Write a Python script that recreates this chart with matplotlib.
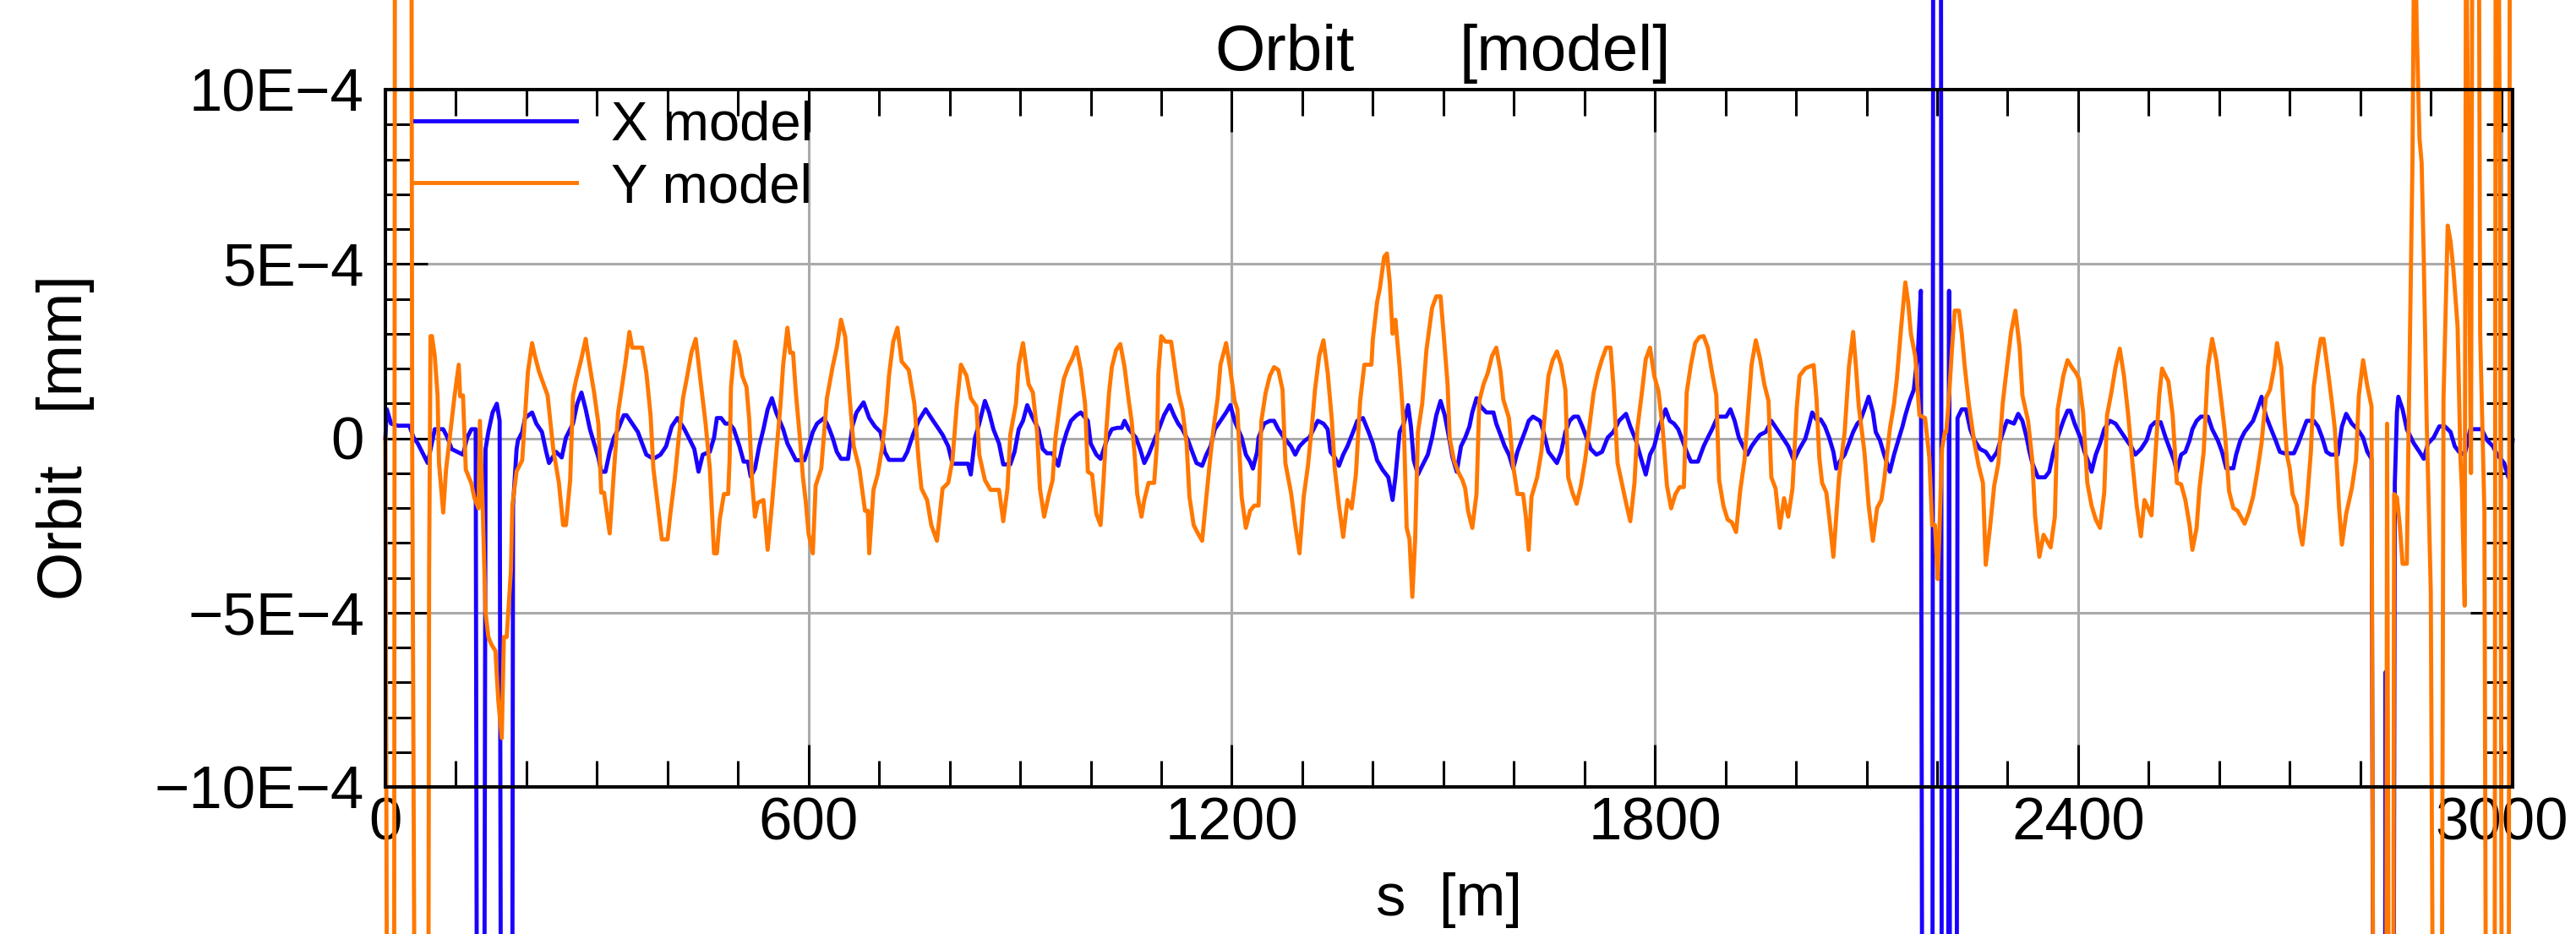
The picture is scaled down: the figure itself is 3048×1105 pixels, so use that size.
import matplotlib.pyplot as plt
from matplotlib import font_manager
from matplotlib.ticker import FixedLocator, MultipleLocator

# orbit readings: s in m, orbit in units of 1E-4 mm (+-30 = spike running off the frame)
x_s = [0, 2, 8, 18, 34, 40, 46, 54, 60, 70, 82, 88, 94, 110, 116, 122, 128, 131, 139, 142,
       146, 152, 158, 162, 165, 179, 181, 186, 188, 194, 198, 208, 214, 222, 228, 232, 242, 250,
       256, 266, 272, 278, 284, 290, 296, 302, 306, 312, 318, 324, 330, 338, 342, 350, 358, 364,
       370, 380, 390, 398, 406, 414, 424, 432, 438, 444, 450, 460, 466, 470, 476, 482, 488, 494,
       502, 508, 514, 518, 524, 530, 536, 542, 548, 554, 564, 570, 576, 582, 594, 600, 606, 612,
       622, 628, 634, 640, 646, 656, 662, 668, 678, 686, 694, 702, 708, 714, 734, 740, 748, 756,
       766, 774, 782, 790, 798, 804, 826, 830, 836, 842, 850, 856, 862, 870, 876, 886, 892, 898,
       904, 910, 916, 926, 932, 938, 946, 954, 960, 966, 972, 980, 986, 996, 1000, 1008, 1014,
       1024, 1030, 1038, 1044, 1048, 1054, 1064, 1070, 1076, 1082, 1098, 1104, 1112, 1118, 1124,
       1130, 1138, 1144, 1150, 1158, 1164, 1170, 1176, 1184, 1192, 1198, 1204, 1214, 1220, 1226,
       1230, 1236, 1238, 1246, 1254, 1260, 1266, 1274, 1284, 1290, 1296, 1304, 1310, 1322, 1330,
       1336, 1340, 1346, 1352, 1358, 1364, 1372, 1378, 1386, 1394, 1400, 1406, 1414, 1422, 1428,
       1432, 1438, 1444, 1450, 1454, 1458, 1464, 1470, 1478, 1484, 1490, 1496, 1502, 1508, 1513,
       1519, 1525, 1531, 1537, 1541, 1547, 1553, 1561, 1571, 1575, 1581, 1587, 1593, 1599, 1605,
       1611, 1617, 1621, 1627, 1637, 1641, 1649, 1655, 1661, 1667, 1673, 1679, 1685, 1691, 1697,
       1703, 1709, 1717, 1725, 1733, 1741, 1749, 1759, 1765, 1773, 1781, 1787, 1793, 1799, 1805,
       1815, 1821, 1827, 1833, 1839, 1845, 1851, 1861, 1869, 1875, 1881, 1889, 1901, 1907, 1913,
       1919, 1925, 1931, 1937, 1943, 1949, 1957, 1965, 1973, 1981, 1989, 1997, 2005, 2013, 2017,
       2023, 2029, 2035, 2041, 2047, 2053, 2057, 2063, 2069, 2075, 2081, 2087, 2091, 2097, 2103,
       2109, 2113, 2119, 2125, 2133, 2139, 2145, 2151, 2155, 2161, 2167, 2173, 2177, 2180, 2193,
       2195, 2205, 2207, 2215, 2217, 2219, 2227, 2229, 2235, 2241, 2247, 2253, 2261, 2269, 2277,
       2285, 2291, 2299, 2309, 2315, 2321, 2327, 2331, 2335, 2343, 2353, 2359, 2365, 2371, 2379,
       2385, 2389, 2395, 2403, 2409, 2415, 2419, 2425, 2431, 2437, 2445, 2453, 2461, 2469, 2475,
       2481, 2489, 2497, 2503, 2509, 2517, 2524, 2530, 2536, 2540, 2546, 2552, 2558, 2562, 2568,
       2574, 2584, 2590, 2598, 2604, 2610, 2620, 2624, 2630, 2636, 2642, 2648, 2654, 2660, 2666,
       2672, 2680, 2686, 2692, 2706, 2712, 2718, 2724, 2734, 2740, 2746, 2752, 2758, 2768, 2774,
       2780, 2788, 2796, 2804, 2810, 2816, 2820, 2834, 2836, 2840, 2846, 2849, 2852, 2854, 2860,
       2866, 2876, 2884, 2890, 2896, 2904, 2912, 2920, 2928, 2934, 2940, 2948, 2956, 2972, 2980,
       2988, 2994, 3004, 3010, 3016]
x_orbit = [0.0, 0.83, 0.42, 0.36, 0.36, 0.02, -0.15, -0.47, -0.71, 0.26, 0.26, 0.02, -0.31,
           -0.47, 0.02, 0.26, 0.26, -30, -30, -0.31, 0.18, 0.74, 0.99, 0.5, -30, -30, -1.93,
           -0.31, -0.06, 0.18, 0.58, 0.74, 0.42, 0.18, -0.39, -0.71, -0.39, -0.55, 0.02, 0.42,
           0.99, 1.31, 0.83, 0.26, -0.15, -0.55, -0.96, -0.96, -0.39, 0.02, 0.26, 0.66, 0.66,
           0.42, 0.18, -0.15, -0.47, -0.59, -0.47, -0.23, 0.34, 0.58, 0.26, -0.06, -0.31, -0.96,
           -0.47, -0.39, 0.02, 0.58, 0.58, 0.42, 0.42, 0.26, -0.23, -0.67, -0.67, -1.1, -0.87,
           -0.23, 0.26, 0.83, 1.15, 0.74, 0.26, -0.15, -0.39, -0.63, -0.63, -0.23, 0.18, 0.42,
           0.58, 0.34, 0.02, -0.39, -0.59, -0.59, 0.34, 0.74, 1.03, 0.58, 0.34, 0.18, -0.39,
           -0.62, -0.62, -0.39, 0.1, 0.5, 0.83, 0.58, 0.34, 0.1, -0.23, -0.73, -0.73, -1.04,
           0.02, 0.42, 1.07, 0.74, 0.26, -0.15, -0.75, -0.75, -0.39, 0.26, 0.5, 0.95, 0.66,
           0.26, -0.31, -0.43, -0.43, -0.79, -0.23, 0.18, 0.5, 0.66, 0.74, 0.5, -0.15, -0.47,
           -0.59, 0.02, 0.26, 0.3, 0.3, 0.5, 0.26, 0.02, -0.31, -0.71, -0.47, 0.34, 0.66, 0.95,
           0.66, 0.42, 0.26, -0.06, -0.39, -0.71, -0.79, -0.47, -0.23, 0.26, 0.5, 0.74, 0.95,
           0.5, 0.02, -0.47, -0.67, -0.87, -0.39, 0.02, 0.42, 0.5, 0.5, 0.26, 0.02, -0.23,
           -0.47, -0.23, -0.06, 0.02, 0.5, 0.42, 0.26, -0.39, -0.55, -0.79, -0.47, -0.23, 0.18,
           0.5, 0.58, 0.18, -0.15, -0.63, -0.91, -1.12, -1.77, -1.12, 0.18, 0.42, 0.95, 0.34,
           -0.63, -1.04, -0.79, -0.47, 0.02, 0.66, 1.07, 0.66, 0.02, -0.55, -0.96, -0.23, 0.02,
           0.34, 0.74, 1.15, 0.91, 0.74, 0.74, 0.42, 0.1, -0.23, -0.47, -0.87, -0.39, -0.06,
           0.26, 0.5, 0.62, 0.5, 0.26, -0.39, -0.55, -0.71, -0.39, 0.18, 0.5, 0.62, 0.62, 0.34,
           0.02, -0.31, -0.47, -0.39, 0.02, 0.18, 0.5, 0.7, 0.34, -0.06, -0.63, -1.04, -0.47,
           -0.23, 0.26, 0.83, 0.5, 0.42, 0.26, -0.06, -0.39, -0.67, -0.67, -0.23, 0.02, 0.26,
           0.62, 0.62, 0.83, 0.5, 0.02, -0.23, -0.47, -0.23, -0.06, 0.1, 0.18, 0.5, 0.26, 0.02,
           -0.23, -0.63, -0.3, -0.02, 0.26, 0.74, 0.54, 0.54, 0.34, 0.02, -0.39, -0.87, -0.63,
           -0.47, -0.15, 0.18, 0.42, 0.5, 0.83, 1.19, 0.74, 0.18, -0.06, -0.47, -0.96, -0.47,
           -0.06, 0.34, 0.66, 1.07, 1.39, 2.53, 4.23, -30, -30, 30, 30, -30, -30, 4.23, -30,
           -30, 0.58, 0.83, 0.83, 0.26, -0.06, -0.31, -0.39, -0.63, -0.39, 0.02, 0.5, 0.42, 0.7,
           0.5, 0.02, -0.39, -0.71, -1.12, -1.12, -0.96, -0.39, 0.02, 0.5, 0.79, 0.79, 0.42,
           0.02, -0.39, -0.71, -0.96, -0.47, -0.15, 0.26, 0.5, 0.42, 0.18, -0.06, -0.23, -0.47,
           -0.31, -0.06, 0.34, 0.46, 0.46, 0.02, -0.31, -0.63, -0.96, -0.47, -0.39, -0.06, 0.26,
           0.5, 0.62, 0.62, 0.26, -0.06, -0.39, -0.86, -0.86, -0.47, -0.06, 0.18, 0.34, 0.5,
           0.83, 1.19, 0.66, 0.34, -0.06, -0.39, -0.43, -0.43, -0.15, 0.18, 0.5, 0.5, 0.34,
           0.02, -0.39, -0.47, -0.47, 0.34, 0.7, 0.42, 0.26, 0.02, -0.39, -0.59, -30, -30, -6.7,
           -30, -30, -1.28, 0.74, 1.19, 0.83, 0.26, -0.15, -0.39, -0.59, -0.15, 0.02, 0.34, 0.34,
           0.18, -0.23, -0.39, -0.47, 0.26, 0.26, -0.06, -0.23, -0.47, -0.71, -1.12, -0.06]

y_s = [0, 4, 12, 14, 36, 38, 44, 60, 62, 64, 66, 70, 74, 76, 82, 86, 98, 104, 106, 110, 114,
       122, 126, 132, 134, 138, 142, 146, 150, 156, 160, 165, 168, 172, 178, 180, 186, 194, 202,
       208, 212, 218, 230, 238, 246, 252, 256, 262, 266, 270, 278, 284, 288, 296, 302, 306, 310,
       318, 324, 330, 340, 346, 350, 364, 370, 376, 380, 386, 392, 400, 404, 410, 416, 422, 428,
       434, 440, 446, 454, 460, 466, 470, 474, 480, 486, 488, 490, 496, 502, 506, 512, 516, 520,
       524, 528, 536, 542, 548, 554, 560, 564, 570, 574, 578, 582, 588, 592, 596, 600, 606, 610,
       618, 626, 634, 640, 646, 652, 658, 664, 672, 680, 684, 686, 692, 698, 704, 710, 714, 720,
       726, 732, 742, 750, 756, 760, 768, 774, 782, 790, 798, 804, 810, 816, 824, 830, 838, 842,
       850, 858, 870, 876, 882, 886, 894, 898, 904, 912, 918, 924, 928, 934, 940, 946, 950, 958,
       962, 968, 974, 980, 986, 992, 996, 1002, 1008, 1014, 1018, 1022, 1026, 1030, 1036, 1042,
       1048, 1054, 1058, 1062, 1066, 1072, 1076, 1082, 1090, 1094, 1096, 1100, 1106, 1114, 1118,
       1124, 1130, 1136, 1140, 1146, 1152, 1158, 1164, 1170, 1174, 1180, 1184, 1192, 1198, 1204,
       1208, 1214, 1220, 1226, 1232, 1238, 1242, 1248, 1254, 1260, 1266, 1272, 1276, 1284, 1290,
       1296, 1302, 1308, 1314, 1318, 1324, 1330, 1336, 1342, 1346, 1352, 1358, 1364, 1370, 1376,
       1382, 1388, 1398, 1400, 1406, 1410, 1416, 1420, 1424, 1428, 1432, 1438, 1444, 1448, 1452,
       1456, 1460, 1464, 1470, 1476, 1484, 1490, 1496, 1500, 1506, 1509, 1515, 1521, 1527, 1531,
       1535, 1541, 1547, 1551, 1557, 1563, 1569, 1575, 1581, 1585, 1593, 1599, 1605, 1613, 1617,
       1621, 1625, 1633, 1639, 1645, 1649, 1655, 1661, 1667, 1673, 1677, 1683, 1689, 1695, 1701,
       1707, 1713, 1719, 1725, 1731, 1737, 1741, 1747, 1753, 1759, 1765, 1771, 1775, 1781, 1787,
       1793, 1799, 1805, 1811, 1817, 1823, 1829, 1835, 1841, 1845, 1851, 1857, 1863, 1869, 1875,
       1881, 1887, 1891, 1897, 1903, 1909, 1915, 1921, 1927, 1931, 1937, 1943, 1949, 1955, 1961,
       1965, 1971, 1977, 1983, 1989, 1995, 2001, 2005, 2013, 2017, 2025, 2029, 2033, 2037, 2043,
       2047, 2053, 2057, 2061, 2069, 2075, 2081, 2085, 2089, 2097, 2103, 2109, 2115, 2121, 2125,
       2133, 2139, 2143, 2149, 2155, 2159, 2163, 2169, 2175, 2183, 2189, 2193, 2197, 2201, 2203,
       2207, 2211, 2213, 2217, 2221, 2225, 2231, 2235, 2239, 2245, 2253, 2259, 2265, 2269, 2275,
       2281, 2287, 2293, 2299, 2305, 2311, 2317, 2321, 2329, 2335, 2339, 2345, 2351, 2361, 2367,
       2371, 2379, 2385, 2391, 2397, 2401, 2407, 2413, 2419, 2425, 2431, 2437, 2441, 2447, 2453,
       2459, 2465, 2471, 2477, 2483, 2489, 2494, 2504, 2509, 2515, 2519, 2522, 2528, 2534, 2540,
       2546, 2552, 2558, 2562, 2568, 2572, 2578, 2584, 2590, 2596, 2602, 2608, 2614, 2620, 2626,
       2636, 2642, 2648, 2654, 2660, 2666, 2672, 2678, 2682, 2688, 2692, 2696, 2700, 2704, 2710,
       2714, 2718, 2724, 2730, 2734, 2740, 2744, 2748, 2754, 2760, 2764, 2770, 2774, 2780, 2788,
       2794, 2798, 2804, 2810, 2816, 2820, 2836, 2838, 2842, 2846, 2848, 2852, 2856, 2860, 2866,
       2868, 2874, 2877, 2880, 2884, 2887, 2890, 2894, 2900, 2906, 2914, 2918, 2924, 2928, 2932,
       2938, 2942, 2944, 2948, 2950, 2953, 2957, 2959, 2968, 2970, 2976, 2980, 2990, 2992, 2996,
       2998, 3002, 3010, 3012, 3016]
y_orbit = [0.0, -30, -30, 30, 30, -0.23, -30, -30, -3.79, 2.93, 2.93, 2.36, 1.23, -0.71, -2.13,
           -0.9, 1.2, 2.11, 1.2, 1.23, -0.9, -1.3, -1.7, -2.01, 0.5, -2.0, -5.0, -5.7, -5.9,
           -6.1, -7.5, -8.6, -5.7, -5.7, -3.79, -1.93, -0.95, -0.63, 1.89, 2.73, 2.36, 1.9,
           1.23, -0.31, -1.28, -2.49, -2.49, -1.2, 1.23, 1.64, 2.29, 2.85, 2.29, 1.3, 0.42,
           -1.56, -1.56, -2.73, -0.96, 0.74, 2.11, 3.05, 2.6, 2.6, 1.88, 0.66, -0.87, -1.88,
           -2.9, -2.9, -2.17, -1.2, 0.02, 1.15, 1.79, 2.47, 2.85, 1.79, 0.42, -0.87, -3.3, -3.3,
           -2.33, -1.6, -1.6, -0.63, 1.47, 2.77, 2.36, 1.79, 1.47, 0.5, -1.28, -2.25, -1.85,
           -1.77, -3.2, -1.93, -0.47, 0.91, 2.11, 3.17, 2.45, 2.45, 1.3, -0.06, -1.12, -1.81,
           -2.73, -3.3, -1.36, -0.87, 1.15, 2.04, 2.6, 3.4, 2.91, 1.23, -0.23, -0.87, -2.08,
           -2.08, -3.3, -1.48, -1.04, -0.31, 0.74, 1.79, 2.77, 3.17, 2.2, 1.96, 0.99, -0.63,
           -1.44, -1.77, -2.49, -2.94, -1.44, -1.28, -0.63, 0.91, 2.11, 1.79, 1.15, 0.91, -0.47,
           -1.2, -1.48, -1.48, -2.38, -1.44, 0.1, 0.99, 2.11, 2.73, 1.55, 1.31, 0.18, -1.44,
           -2.25, -1.68, -1.2, 0.02, 1.23, 1.71, 2.04, 2.29, 2.61, 1.96, 0.99, -0.96, -1.04,
           -2.17, -2.49, -1.28, 0.18, 1.3, 2.04, 2.53, 2.7, 2.04, 1.07, 0.5, -0.39, -1.6, -2.25,
           -1.77, -1.28, -1.28, -0.15, 1.87, 2.93, 2.77, 2.77, 2.2, 1.31, 0.83, -0.15, -1.68,
           -2.49, -2.73, -2.94, -1.68, -0.47, 0.26, 1.15, 2.11, 2.73, 1.96, 1.07, 0.83, -1.68,
           -2.57, -2.08, -1.93, -1.93, 0.5, 1.3, 1.79, 2.04, 1.96, 1.39, -0.71, -1.56, -2.49,
           -3.3, -1.68, -0.79, 0.42, 1.39, 2.36, 2.81, 1.88, 0.5, -0.87, -1.93, -2.83, -1.77,
           -2.01, -1.04, 1.07, 2.11, 2.11, 2.83, 3.9, 4.3, 5.2, 5.3, 4.47, 3.0, 3.4, 2.04, 0.34,
           -2.57, -2.9, -4.55, -2.9, 0.18, 0.99, 2.53, 3.74, 4.07, 4.07, 3.09, 1.55, 0.0, -0.63,
           -0.96, -1.2, -1.44, -2.08, -2.57, -1.6, 1.07, 1.55, 1.87, 2.36, 2.6, 1.92, 1.11,
           0.58, -0.79, -1.6, -1.6, -2.25, -3.2, -1.68, -1.12, -0.39, 0.91, 1.79, 2.24, 2.49,
           2.11, 1.39, -1.12, -1.56, -1.88, -1.36, -0.63, 0.34, 1.3, 1.87, 2.27, 2.6, 2.6, 1.55,
           -0.71, -1.28, -1.85, -2.38, -1.28, 0.26, 1.23, 2.27, 2.6, 1.79, 1.35, 0.26, -1.36,
           -2.01, -1.6, -1.4, -1.4, 1.31, 2.11, 2.73, 2.9, 2.93, 2.6, 1.88, 1.23, -1.2, -1.93,
           -2.33, -2.41, -2.69, -1.48, -0.63, 0.5, 2.11, 2.81, 2.28, 1.55, 1.07, -1.12, -1.44,
           -2.57, -1.72, -2.25, -1.44, 0.87, 1.79, 2.0, 2.04, 2.1, 1.15, -0.55, -1.28, -1.56,
           -2.25, -3.4, -2.25, -1.12, 0.18, 2.04, 3.05, 2.04, 0.91, -0.39, -1.93, -2.94, -2.0,
           -1.77, -1.2, 0.26, 0.99, 1.71, 3.17, 4.47, 3.9, 2.98, 2.36, 0.66, 0.58, -0.55, -2.49,
           -2.49, -4.04, -2.9, -0.31, 0.18, 0.18, 1.2, 2.53, 3.66, 3.66, 3.0, 2.1, 0.99, -0.15,
           -0.79, -1.28, -3.63, -2.57, -1.36, -0.71, 0.99, 2.04, 3.05, 3.66, 2.61, 1.23, 0.5,
           -0.63, -2.25, -3.4, -2.77, -3.13, -2.25, 0.83, 1.79, 2.24, 2.04, 1.87, 1.71, 0.74,
           -1.28, -1.93, -2.33, -2.57, -1.56, 0.66, 1.3, 2.04, 2.57, 1.79, 0.66, -0.71, -1.93,
           -2.81, -1.77, -2.21, -0.63, 1.23, 2.0, 1.87, 1.63, 0.66, -1.28, -1.32, -1.77, -2.49,
           -3.2, -2.57, -1.44, -0.39, 2.04, 2.85, 2.24, 1.23, 0.18, -1.52, -2.0, -2.08, -2.45,
           -2.13, -1.68, -0.96, -0.15, 1.15, 1.39, 2.04, 2.73, 2.04, 0.66, -0.47, -0.87, -1.6,
           -1.93, -2.65, -3.05, -1.93, -0.39, 1.47, 2.36, 2.85, 2.85, 1.96, 0.99, 0.26, -2.01,
           -3.05, -2.17, -1.44, -0.63, 1.23, 2.24, 1.5, 0.91, -30, -30, 0.42, -30, -30, -1.6,
           -1.7, -2.5, -3.6, -3.6, -0.55, 7.9, 16, 11.8, 8.6, 7.9, 5.2, 0.66, -4.4, -30, -30,
           1.1, 6.1, 5.65, 4.85, 3.2, -0.55, -1.4, -4.8, 16, 8.1, -1.0, 16, 16, 3.0, -2.1, -30,
           -30, 16, 16, 7.4, -30, -30, 16, 16]

x_ticks = [0, 600, 1200, 1800, 2400, 3000]
y_ticks = [-10, -5, 0, 5, 10]
y_tick_labels = ['\u221210E\u22124', '\u22125E\u22124', '0', '5E\u22124', '10E\u22124']

names = {f.name for f in font_manager.fontManager.ttflist}
plt.rcParams['font.family'] = 'Liberation Sans' if 'Liberation Sans' in names else 'DejaVu Sans'

fig = plt.figure(figsize=(30.48, 11.05), dpi=100)
ax = fig.add_axes([456 / 3048, 1 - 931 / 1105, (2973 - 456) / 3048, (931 - 106) / 1105])

ax.plot(x_s, x_orbit, color='#1a00ff', lw=3.5, clip_on=False, label='X model')
ax.plot(y_s, y_orbit, color='#ff7800', lw=3.5, clip_on=False, label='Y model')

ax.set_xlim(0, 3016)
ax.set_ylim(-10, 10)
ax.xaxis.set_major_locator(FixedLocator(x_ticks))
ax.xaxis.set_minor_locator(MultipleLocator(100))
ax.yaxis.set_major_locator(FixedLocator(y_ticks))
ax.yaxis.set_minor_locator(MultipleLocator(1))
ax.set_yticklabels(y_tick_labels)

ax.tick_params(which='both', direction='in', top=True, right=True, width=2.2, color='black')
ax.tick_params(which='major', length=36)
ax.tick_params(which='minor', length=22)
ax.tick_params(axis='x', pad=8, labelsize=51)
ax.tick_params(axis='y', pad=18, labelsize=51)
for sp in ax.spines.values():
    sp.set_linewidth(2.9)

ax.grid(True, which='major', color='#aaaaaa', lw=2.2)
ax.set_axisbelow(True)

ax.legend(loc='upper left', bbox_to_anchor=(0.014, 0.985), frameon=False, fontsize=47,
          handlelength=2.92, handletextpad=0.63, labelspacing=0.21, borderpad=0,
          borderaxespad=0)

fig.text(1520 / 3048, 1 - 83 / 1105, 'Orbit', ha='center', va='baseline', fontsize=55)
fig.text(1852 / 3048, 1 - 83 / 1105, '[model]', ha='center', va='baseline', fontsize=55)
fig.text(1714 / 3048, 1 - 1065 / 1105, 's  [m]', ha='center', va='center', fontsize=51)
fig.text(78 / 3048, 1 - 518 / 1105, 'Orbit   [mm]', ha='center', va='center',
         rotation=90, fontsize=53)

fig.savefig('out.png', dpi=100)
